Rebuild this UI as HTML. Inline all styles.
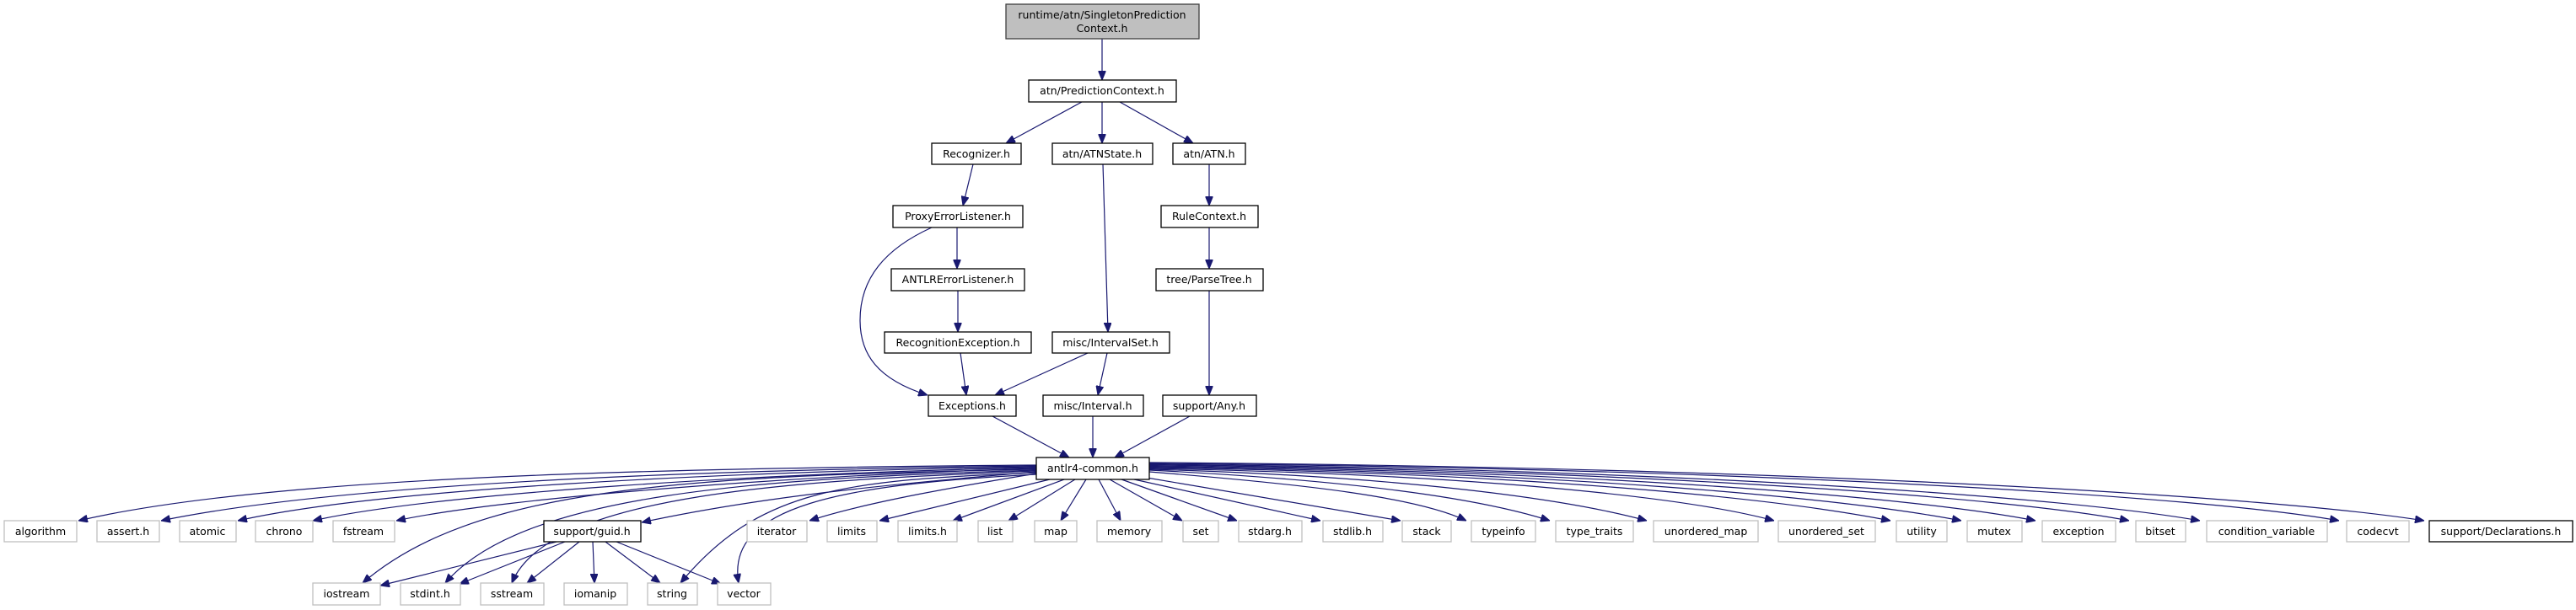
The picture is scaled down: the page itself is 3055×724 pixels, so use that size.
<!DOCTYPE html>
<html><head><meta charset="utf-8"><style>
html,body{margin:0;padding:0;background:#fff;}
svg{display:block;}
text{font-family:"DejaVu Sans","Liberation Sans",sans-serif;font-size:12.5px;text-anchor:middle;fill:#000;}
.g rect{fill:#fff;stroke:#bfbfbf;stroke-width:1.3;}
.n rect{fill:#fff;stroke:#000;stroke-width:1.3;}
.e path{fill:none;stroke:#191970;stroke-width:1.2;}
</style></head><body>
<svg width="3055" height="724" viewBox="0 0 3055 724" xmlns="http://www.w3.org/2000/svg">
<defs><marker id="a" markerWidth="11" markerHeight="9" refX="11" refY="4.5" orient="auto" markerUnits="userSpaceOnUse"><path d="M0,0 L11,4.5 L0,9 z" fill="#191970" stroke="#191970"/></marker></defs>
<g class="e">
<path d="M1307,46 L1307,95" marker-end="url(#a)"/>
<path d="M1283,121 L1193,170" marker-end="url(#a)"/>
<path d="M1307,121 L1307,170" marker-end="url(#a)"/>
<path d="M1328,121 L1415,170" marker-end="url(#a)"/>
<path d="M1154,195 L1142,244" marker-end="url(#a)"/>
<path d="M1308,195 L1314,394" marker-end="url(#a)"/>
<path d="M1434,195 L1434,244" marker-end="url(#a)"/>
<path d="M1135,270 L1135,319" marker-end="url(#a)"/>
<path d="M1105,270 C1050,295 1020,330 1020,380 C1020,420 1040,450 1100,469" marker-end="url(#a)"/>
<path d="M1434,270 L1434,319" marker-end="url(#a)"/>
<path d="M1136,345 L1136,394" marker-end="url(#a)"/>
<path d="M1139,419 L1146,469" marker-end="url(#a)"/>
<path d="M1290,419 L1180,469" marker-end="url(#a)"/>
<path d="M1313,419 L1302,469" marker-end="url(#a)"/>
<path d="M1434,345 L1434,469" marker-end="url(#a)"/>
<path d="M1177,494 L1268,543" marker-end="url(#a)"/>
<path d="M1296,494 L1296,543" marker-end="url(#a)"/>
<path d="M1411,494 L1322,543" marker-end="url(#a)"/>
<path d="M1229,552 C700,556 300,570 93,618" marker-end="url(#a)"/>
<path d="M1229,553 C800,558 400,575 191,618" marker-end="url(#a)"/>
<path d="M1229,554 C850,560 450,580 282,618" marker-end="url(#a)"/>
<path d="M1229,555 C900,562 520,585 371,618" marker-end="url(#a)"/>
<path d="M1229,556 C950,564 600,590 470,618" marker-end="url(#a)"/>
<path d="M1229,560 C1050,575 900,590 761,620" marker-end="url(#a)"/>
<path d="M1229,562 C1150,575 1030,595 960,618" marker-end="url(#a)"/>
<path d="M1245,569 L1043,618" marker-end="url(#a)"/>
<path d="M1262,569 L1130,618" marker-end="url(#a)"/>
<path d="M1275,569 L1196,618" marker-end="url(#a)"/>
<path d="M1288,569 L1258,618" marker-end="url(#a)"/>
<path d="M1303,569 L1329,618" marker-end="url(#a)"/>
<path d="M1316,569 L1402,618" marker-end="url(#a)"/>
<path d="M1330,569 L1467,618" marker-end="url(#a)"/>
<path d="M1345,569 L1566,618" marker-end="url(#a)"/>
<path d="M1360,567 L1661,618" marker-end="url(#a)"/>
<path d="M1229,557 C800,565 560,580 430,692" marker-end="url(#a)"/>
<path d="M1229,558 C900,568 620,585 528,692" marker-end="url(#a)"/>
<path d="M1229,559 C950,570 650,585 607,692" marker-end="url(#a)"/>
<path d="M1229,561 C1000,570 900,580 807,692" marker-end="url(#a)"/>
<path d="M1229,563 C1000,575 860,600 876,692" marker-end="url(#a)"/>
<path d="M660,643 L451,695" marker-end="url(#a)"/>
<path d="M670,643 L545,693" marker-end="url(#a)"/>
<path d="M687,643 L625,692" marker-end="url(#a)"/>
<path d="M703,643 L705,692" marker-end="url(#a)"/>
<path d="M718,643 L783,692" marker-end="url(#a)"/>
<path d="M731,643 L855,693" marker-end="url(#a)"/>
<path d="M1363,560 C1550,575 1680,590 1739,618" marker-end="url(#a)"/>
<path d="M1363,558 C1600,570 1750,590 1838,618" marker-end="url(#a)"/>
<path d="M1363,557 C1650,565 1850,590 1953,618" marker-end="url(#a)"/>
<path d="M1363,556 C1750,563 2000,590 2104,618" marker-end="url(#a)"/>
<path d="M1363,555 C1800,561 2100,590 2242,618" marker-end="url(#a)"/>
<path d="M1363,554 C1850,560 2180,590 2326,618" marker-end="url(#a)"/>
<path d="M1363,553 C1900,559 2270,590 2414,618" marker-end="url(#a)"/>
<path d="M1363,552 C1950,558 2380,590 2525,618" marker-end="url(#a)"/>
<path d="M1363,551 C2000,557 2450,590 2609,618" marker-end="url(#a)"/>
<path d="M1363,550 C2100,556 2620,590 2774,618" marker-end="url(#a)"/>
<path d="M1363,549 C2150,555 2700,590 2875,618" marker-end="url(#a)"/>
</g>
<rect x="1193" y="5" width="229" height="41" fill="#bfbfbf" stroke="#404040" stroke-width="1.3"/>
<text x="1307" y="22">runtime/atn/SingletonPrediction</text>
<text x="1307" y="38">Context.h</text>
<g class="n">
<rect x="1220" y="95" width="175" height="26"/><text x="1307" y="112">atn/PredictionContext.h</text>
<rect x="1105" y="170" width="106" height="25"/><text x="1158" y="187">Recognizer.h</text>
<rect x="1248" y="170" width="119" height="25"/><text x="1307" y="187">atn/ATNState.h</text>
<rect x="1391" y="170" width="86" height="25"/><text x="1434" y="187">atn/ATN.h</text>
<rect x="1059" y="244" width="154" height="26"/><text x="1136" y="261">ProxyErrorListener.h</text>
<rect x="1377" y="244" width="115" height="26"/><text x="1434" y="261">RuleContext.h</text>
<rect x="1057" y="319" width="158" height="26"/><text x="1136" y="336">ANTLRErrorListener.h</text>
<rect x="1371" y="319" width="127" height="26"/><text x="1434" y="336">tree/ParseTree.h</text>
<rect x="1049" y="394" width="174" height="25"/><text x="1136" y="411">RecognitionException.h</text>
<rect x="1248" y="394" width="139" height="25"/><text x="1317" y="411">misc/IntervalSet.h</text>
<rect x="1101" y="469" width="104" height="25"/><text x="1153" y="486">Exceptions.h</text>
<rect x="1237" y="469" width="119" height="25"/><text x="1296" y="486">misc/Interval.h</text>
<rect x="1379" y="469" width="111" height="25"/><text x="1434" y="486">support/Any.h</text>
<rect x="1229" y="543" width="134" height="26"/><text x="1296" y="560">antlr4-common.h</text>
<rect x="645" y="618" width="115" height="25"/><text x="702" y="635">support/guid.h</text>
<rect x="2881" y="618" width="170" height="25"/><text x="2966" y="635">support/Declarations.h</text>
</g>
<g class="g">
<rect x="5" y="618" width="86" height="25"/><text x="48" y="635">algorithm</text>
<rect x="115" y="618" width="74" height="25"/><text x="152" y="635">assert.h</text>
<rect x="213" y="618" width="67" height="25"/><text x="246" y="635">atomic</text>
<rect x="303" y="618" width="68" height="25"/><text x="337" y="635">chrono</text>
<rect x="395" y="618" width="73" height="25"/><text x="431" y="635">fstream</text>
<rect x="886" y="618" width="71" height="25"/><text x="921" y="635">iterator</text>
<rect x="981" y="618" width="59" height="25"/><text x="1010" y="635">limits</text>
<rect x="1065" y="618" width="70" height="25"/><text x="1100" y="635">limits.h</text>
<rect x="1160" y="618" width="41" height="25"/><text x="1180" y="635">list</text>
<rect x="1227" y="618" width="50" height="25"/><text x="1252" y="635">map</text>
<rect x="1301" y="618" width="77" height="25"/><text x="1339" y="635">memory</text>
<rect x="1403" y="618" width="42" height="25"/><text x="1424" y="635">set</text>
<rect x="1469" y="618" width="75" height="25"/><text x="1506" y="635">stdarg.h</text>
<rect x="1569" y="618" width="71" height="25"/><text x="1604" y="635">stdlib.h</text>
<rect x="1663" y="618" width="58" height="25"/><text x="1692" y="635">stack</text>
<rect x="1745" y="618" width="76" height="25"/><text x="1783" y="635">typeinfo</text>
<rect x="1845" y="618" width="92" height="25"/><text x="1891" y="635">type_traits</text>
<rect x="1961" y="618" width="124" height="25"/><text x="2023" y="635">unordered_map</text>
<rect x="2109" y="618" width="115" height="25"/><text x="2166" y="635">unordered_set</text>
<rect x="2249" y="618" width="60" height="25"/><text x="2279" y="635">utility</text>
<rect x="2333" y="618" width="65" height="25"/><text x="2365" y="635">mutex</text>
<rect x="2422" y="618" width="87" height="25"/><text x="2465" y="635">exception</text>
<rect x="2533" y="618" width="59" height="25"/><text x="2562" y="635">bitset</text>
<rect x="2617" y="618" width="143" height="25"/><text x="2688" y="635">condition_variable</text>
<rect x="2783" y="618" width="74" height="25"/><text x="2820" y="635">codecvt</text>
<rect x="371" y="692" width="80" height="26"/><text x="411" y="709">iostream</text>
<rect x="475" y="692" width="71" height="26"/><text x="510" y="709">stdint.h</text>
<rect x="570" y="692" width="75" height="26"/><text x="607" y="709">sstream</text>
<rect x="669" y="692" width="75" height="26"/><text x="706" y="709">iomanip</text>
<rect x="768" y="692" width="59" height="26"/><text x="797" y="709">string</text>
<rect x="851" y="692" width="63" height="26"/><text x="882" y="709">vector</text>
</g>
</svg>
</body></html>
